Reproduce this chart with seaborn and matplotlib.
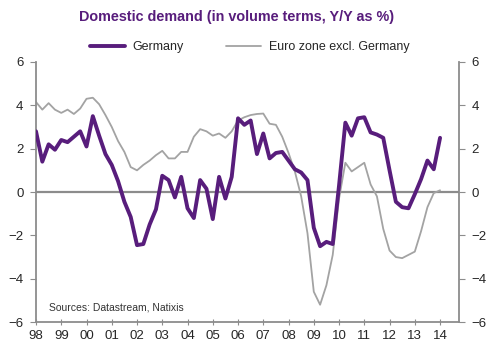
import numpy as np
import pandas as pd
import matplotlib
matplotlib.use("Agg")
import matplotlib.pyplot as plt
import seaborn as sns

# Quarterly data, 1998Q1 -> 2014Q1 (Y/Y %)
germany = [2.8, 1.4, 2.2, 1.95,
           2.4, 2.3, 2.55, 2.8,
           2.1, 3.5, 2.6, 1.75,
           1.25, 0.5, -0.45, -1.15,
           -2.45, -2.4, -1.5, -0.8,
           0.75, 0.55, -0.25, 0.7,
           -0.75, -1.2, 0.55, 0.15,
           -1.25, 0.7, -0.3, 0.7,
           3.4, 3.1, 3.3, 1.75,
           2.7, 1.55, 1.8, 1.85,
           1.45, 1.05, 0.9, 0.55,
           -1.65, -2.5, -2.3, -2.4,
           0.3, 3.2, 2.6, 3.4,
           3.45, 2.75, 2.65, 2.5,
           1.0, -0.45, -0.7, -0.75,
           -0.1, 0.6, 1.45, 1.05,
           2.5]
euro_ex_de = [4.15, 3.8, 4.1, 3.8,
              3.65, 3.8, 3.6, 3.85,
              4.3, 4.35, 4.05, 3.55,
              3.0, 2.35, 1.85, 1.15,
              1.0, 1.25, 1.45, 1.7,
              1.9, 1.55, 1.55, 1.85,
              1.85, 2.55, 2.9, 2.8,
              2.6, 2.7, 2.5, 2.8,
              3.3, 3.45, 3.55, 3.6,
              3.62, 3.15, 3.1, 2.55,
              1.8, 0.95, -0.2, -1.9,
              -4.6, -5.2, -4.3, -2.9,
              -0.3, 1.35, 0.95, 1.15,
              1.35, 0.35, -0.2, -1.7,
              -2.7, -3.0, -3.05, -2.9,
              -2.75, -1.8, -0.7, -0.05,
              0.08]
years = list(range(1998, 2015))
year_labels = ['98', '99', '00', '01', '02', '03', '04', '05', '06',
               '07', '08', '09', '10', '11', '12', '13', '14']

quarters = 1998 + np.arange(len(germany)) / 4
df = pd.DataFrame({'t': quarters, 'Germany': germany,
                   'Euro zone excl. Germany': euro_ex_de})

sns.set_style('white')
plt.rcParams['font.family'] = ['Liberation Sans', 'DejaVu Sans']

purple = '#581d7c'
grey = '#a3a3a3'
axis_grey = '#8c8c8c'

fig = plt.figure(figsize=(5, 3.52), dpi=100)
ax = fig.add_axes([0.072, 0.085, 0.846, 0.739])

ax.axhline(0, color=axis_grey, lw=1.6, zorder=1)
sns.lineplot(data=df, x='t', y='Euro zone excl. Germany', ax=ax, color=grey,
             lw=1.3, label='Euro zone excl. Germany', zorder=2)
sns.lineplot(data=df, x='t', y='Germany', ax=ax, color=purple,
             lw=2.8, label='Germany', zorder=3)

ax.set_xlim(1998, 2014.75)
ax.set_ylim(-6, 6)
ax.set_xticks(years)
ax.set_xticklabels(year_labels)
ax.set_yticks(range(-6, 7, 2))
ax.set_xlabel('')
ax.set_ylabel('')

for side in ['left', 'right', 'bottom']:
    ax.spines[side].set_color(axis_grey)
    ax.spines[side].set_linewidth(1.3)
ax.spines['top'].set_visible(False)

ax.tick_params(axis='y', which='both', left=True, right=True, labelleft=True,
               labelright=True, direction='out', length=4, color=axis_grey,
               labelsize=9.5, pad=5)
ax.tick_params(axis='x', bottom=True, direction='inout', length=5,
               color=axis_grey, labelsize=9.5, pad=3)

# legend: Germany first
handles, labels = ax.get_legend_handles_labels()
order = [labels.index('Germany'), labels.index('Euro zone excl. Germany')]
ax.legend([handles[i] for i in order], [labels[i] for i in order],
          loc='lower center', bbox_to_anchor=(0.505, 1.0), ncol=2,
          frameon=False, fontsize=9, handlelength=2.8, handletextpad=0.6,
          columnspacing=3.4, borderaxespad=0.3)

ax.text(0.03, 0.045, 'Sources: Datastream, Natixis', transform=ax.transAxes,
        fontsize=7.5, color='#333333')

fig.text(0.474, 0.953, 'Domestic demand (in volume terms, Y/Y as %)',
         ha='center', va='center', fontsize=10.4, fontweight='bold',
         color=purple)

fig.savefig('out.png', dpi=100)
